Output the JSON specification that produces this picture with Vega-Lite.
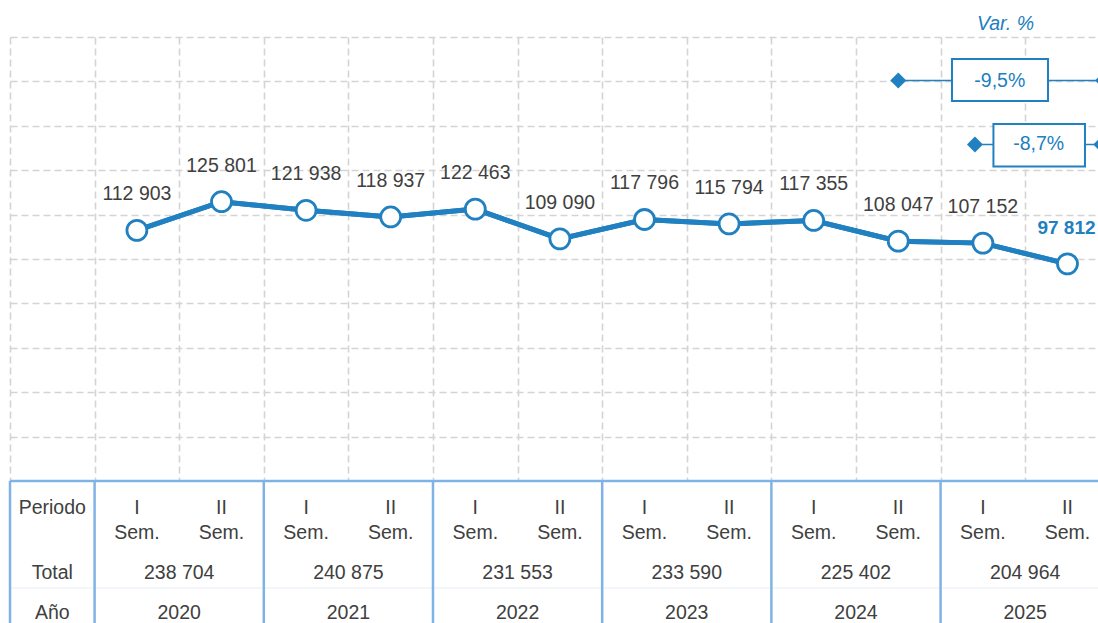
{
  "$schema": "https://vega.github.io/schema/vega-lite/v6.json",
  "width": 1088,
  "height": 586,
  "autosize": {"type": "none"},
  "padding": {"left": 10, "top": 37, "right": 0, "bottom": 0},
  "config": {
    "view": {"stroke": null},
    "locale": {"number": {"decimal": ",", "thousands": " ", "grouping": [3], "currency": ["", ""]}},
    "axis": {"title": null, "labels": false, "ticks": false, "domain": false, "grid": true, "gridColor": "#d4d4d4", "gridDash": [7, 4], "gridWidth": 1.6},
    "text": {"font": "Liberation Sans Narrow, Arial Narrow, Liberation Sans, Arial, sans-serif", "fontSize": 19.5, "color": "#404040"}
  },
  "datasets": {
    "points": [
      {"i": 1, "year": 2020, "per": "I\nSem.", "value": 112903},
      {"i": 2, "year": 2020, "per": "II\nSem.", "value": 125801},
      {"i": 3, "year": 2021, "per": "I\nSem.", "value": 121938},
      {"i": 4, "year": 2021, "per": "II\nSem.", "value": 118937},
      {"i": 5, "year": 2022, "per": "I\nSem.", "value": 122463},
      {"i": 6, "year": 2022, "per": "II\nSem.", "value": 109090},
      {"i": 7, "year": 2023, "per": "I\nSem.", "value": 117796},
      {"i": 8, "year": 2023, "per": "II\nSem.", "value": 115794},
      {"i": 9, "year": 2024, "per": "I\nSem.", "value": 117355},
      {"i": 10, "year": 2024, "per": "II\nSem.", "value": 108047},
      {"i": 11, "year": 2025, "per": "I\nSem.", "value": 107152},
      {"i": 12, "year": 2025, "per": "II\nSem.", "value": 97812}
    ],
    "years": [
      {"year": "2020", "mid": 1.5, "total": 238704},
      {"year": "2021", "mid": 3.5, "total": 240875},
      {"year": "2022", "mid": 5.5, "total": 231553},
      {"year": "2023", "mid": 7.5, "total": 233590},
      {"year": "2024", "mid": 9.5, "total": 225402},
      {"year": "2025", "mid": 11.5, "total": 204964}
    ],
    "bounds": [{"b": -0.5}, {"b": 0.5}, {"b": 2.5}, {"b": 4.5}, {"b": 6.5}, {"b": 8.5}, {"b": 10.5}, {"b": 12.5}],
    "var": [
      {"label": "-9,5%", "from": 10, "to": 12.42, "ly": 180405, "bx1": 10.635, "bx2": 11.77, "by1": 171171, "by2": 190090, "xc": 11.2},
      {"label": "-8,7%", "from": 10.906, "to": 12.4, "ly": 151577, "bx1": 11.125, "bx2": 12.207, "by1": 141667, "by2": 160811, "xc": 11.66}
    ],
    "one": [{}]
  },
  "layer": [
    {
      "data": {"name": "points"},
      "mark": {"type": "line", "color": "#2080c0", "strokeWidth": 5},
      "encoding": {
        "x": {"field": "i", "type": "quantitative", "scale": {"domain": [-0.5, 12.361], "nice": false, "zero": false},
              "axis": {"values": [-0.5, 0.5, 1.5, 2.5, 3.5, 4.5, 5.5, 6.5, 7.5, 8.5, 9.5, 10.5, 11.5]}},
        "y": {"field": "value", "type": "quantitative", "scale": {"domain": [-63964, 200000], "nice": false, "zero": false},
              "axis": {"values": [0, 20000, 40000, 60000, 80000, 100000, 120000, 140000, 160000, 180000, 200000]}}
      }
    },
    {
      "data": {"name": "one"},
      "mark": {"type": "rect", "fill": "white"},
      "encoding": {
        "x": {"datum": -0.5, "type": "quantitative"}, "x2": {"datum": 12.361},
        "y": {"datum": -63964, "type": "quantitative"}, "y2": {"datum": 0}
      }
    },
    {
      "data": {"name": "one"},
      "mark": {"type": "rule", "color": "#e6edf6", "strokeWidth": 1},
      "encoding": {
        "x": {"datum": -0.5, "type": "quantitative"}, "x2": {"datum": 12.361},
        "y": {"datum": -48198, "type": "quantitative"}
      }
    },
    {
      "data": {"name": "bounds"},
      "mark": {"type": "rule", "color": "#7fb3e5", "strokeWidth": 2.5},
      "encoding": {
        "x": {"field": "b", "type": "quantitative"},
        "y": {"datum": 0, "type": "quantitative"}, "y2": {"datum": -63964}
      }
    },
    {
      "data": {"name": "one"},
      "mark": {"type": "rule", "color": "#7fb3e5", "strokeWidth": 2.5},
      "encoding": {
        "x": {"datum": -0.5, "type": "quantitative"}, "x2": {"datum": 12.361},
        "y": {"datum": 0, "type": "quantitative"}
      }
    },
    {
      "data": {"name": "points"},
      "mark": {"type": "line", "color": "#2080c0", "strokeWidth": 5},
      "encoding": {
        "x": {"field": "i", "type": "quantitative"},
        "y": {"field": "value", "type": "quantitative"}
      }
    },
    {
      "data": {"name": "points"},
      "mark": {"type": "point", "shape": "circle", "filled": true, "fill": "white", "stroke": "#2080c0", "strokeWidth": 2.8, "size": 400, "opacity": 1},
      "encoding": {
        "x": {"field": "i", "type": "quantitative"},
        "y": {"field": "value", "type": "quantitative"}
      }
    },
    {
      "data": {"name": "points"},
      "transform": [{"filter": "datum.i < 12"}],
      "mark": {"type": "text", "dy": -36, "baseline": "middle"},
      "encoding": {
        "x": {"field": "i", "type": "quantitative"},
        "y": {"field": "value", "type": "quantitative"},
        "text": {"field": "value", "type": "quantitative", "format": ",d"}
      }
    },
    {
      "data": {"name": "points"},
      "transform": [{"filter": "datum.i == 12"}],
      "mark": {"type": "text", "dy": -36, "dx": -1, "baseline": "middle", "color": "#2080c0", "fontWeight": "bold", "fontSize": 19},
      "encoding": {
        "x": {"field": "i", "type": "quantitative"},
        "y": {"field": "value", "type": "quantitative"},
        "text": {"field": "value", "type": "quantitative", "format": ",d"}
      }
    },
    {
      "data": {"name": "var"},
      "mark": {"type": "rule", "color": "#2080c0", "strokeWidth": 1.5},
      "encoding": {
        "x": {"field": "from", "type": "quantitative"}, "x2": {"field": "to"},
        "y": {"field": "ly", "type": "quantitative"}
      }
    },
    {
      "data": {"name": "var"},
      "mark": {"type": "point", "shape": "diamond", "filled": true, "color": "#2080c0", "size": 256, "opacity": 1},
      "encoding": {
        "x": {"field": "from", "type": "quantitative"},
        "y": {"field": "ly", "type": "quantitative"}
      }
    },
    {
      "data": {"name": "var"},
      "mark": {"type": "point", "shape": "diamond", "filled": true, "color": "#2080c0", "size": 256, "opacity": 1},
      "encoding": {
        "x": {"field": "to", "type": "quantitative"},
        "y": {"field": "ly", "type": "quantitative"}
      }
    },
    {
      "data": {"name": "var"},
      "mark": {"type": "rect", "fill": "white", "stroke": "#2080c0", "strokeWidth": 2},
      "encoding": {
        "x": {"field": "bx1", "type": "quantitative"}, "x2": {"field": "bx2"},
        "y": {"field": "by1", "type": "quantitative"}, "y2": {"field": "by2"}
      }
    },
    {
      "data": {"name": "var"},
      "mark": {"type": "text", "baseline": "middle", "color": "#2080c0"},
      "encoding": {
        "x": {"field": "xc", "type": "quantitative"},
        "y": {"field": "ly", "type": "quantitative"},
        "text": {"field": "label"}
      }
    },
    {
      "data": {"name": "one"},
      "mark": {"type": "text", "baseline": "middle", "color": "#2080c0", "fontStyle": "italic"},
      "encoding": {
        "x": {"datum": 11.267, "type": "quantitative"},
        "y": {"datum": 206081, "type": "quantitative"},
        "text": {"value": "Var. %"}
      }
    },
    {
      "data": {"name": "points"},
      "mark": {"type": "text", "baseline": "middle", "lineBreak": "\n", "lineHeight": 25.5},
      "encoding": {
        "x": {"field": "i", "type": "quantitative"},
        "y": {"datum": -12162, "type": "quantitative"},
        "text": {"field": "per"}
      }
    },
    {
      "data": {"name": "one"},
      "mark": {"type": "text", "baseline": "middle"},
      "encoding": {
        "x": {"datum": 0, "type": "quantitative"},
        "y": {"datum": -12162, "type": "quantitative"},
        "text": {"value": "Periodo"}
      }
    },
    {
      "data": {"name": "one"},
      "mark": {"type": "text", "baseline": "middle"},
      "encoding": {
        "x": {"datum": 0, "type": "quantitative"},
        "y": {"datum": -41577, "type": "quantitative"},
        "text": {"value": "Total"}
      }
    },
    {
      "data": {"name": "one"},
      "mark": {"type": "text", "baseline": "middle"},
      "encoding": {
        "x": {"datum": 0, "type": "quantitative"},
        "y": {"datum": -59595, "type": "quantitative"},
        "text": {"value": "Año"}
      }
    },
    {
      "data": {"name": "years"},
      "mark": {"type": "text", "baseline": "middle"},
      "encoding": {
        "x": {"field": "mid", "type": "quantitative"},
        "y": {"datum": -41577, "type": "quantitative"},
        "text": {"field": "total", "type": "quantitative", "format": ",d"}
      }
    },
    {
      "data": {"name": "years"},
      "mark": {"type": "text", "baseline": "middle"},
      "encoding": {
        "x": {"field": "mid", "type": "quantitative"},
        "y": {"datum": -59595, "type": "quantitative"},
        "text": {"field": "year"}
      }
    }
  ]
}
